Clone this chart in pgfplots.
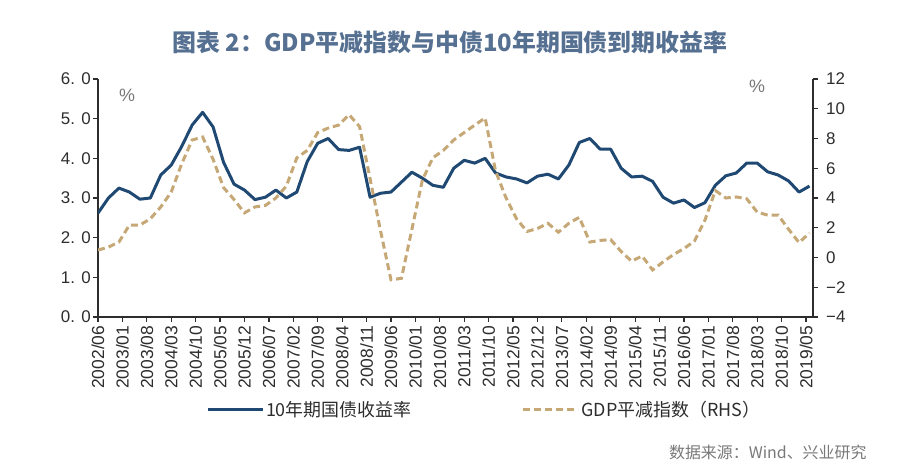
\documentclass[border=0pt]{standalone}
\usepackage{fontspec}
\setmainfont{Liberation Sans}
\newfontfamily\cjk{Noto Sans CJK SC}
\usepackage{pgfplots}
\usepackage{pgfplotstable}
\pgfplotsset{compat=1.18}
\definecolor{bondblue}{RGB}{31,73,115}
\definecolor{defgold}{RGB}{198,168,118}
\definecolor{titleblue}{RGB}{86,112,146}
\definecolor{axisgray}{RGB}{45,45,45}
\definecolor{srcgray}{RGB}{120,120,120}

\pgfplotstableread{
m bond defl
0 2.62 0.5
3 3.00 0.7
6 3.25 1.04
9 3.15 2.18
12 2.97 2.18
15 3.00 2.6
18 3.58 3.4
21 3.83 4.4
24 4.30 6.3
27 4.84 7.9
30 5.16 8.1
33 4.79 6.6
36 3.90 4.7
39 3.35 3.9
42 3.20 3.0
45 2.96 3.4
48 3.02 3.5
51 3.20 4.0
54 3.00 4.8
57 3.15 6.7
60 3.92 7.2
63 4.38 8.4
66 4.50 8.7
69 4.22 8.9
72 4.20 9.6
75 4.28 8.8
78 3.02 5.3
81 3.12 1.8
84 3.15 -1.5
87 3.40 -1.4
90 3.65 1.9
93 3.50 5.2
96 3.32 6.7
99 3.27 7.2
102 3.75 7.9
105 3.95 8.4
108 3.88 8.9
111 4.00 9.38
114 3.63 5.8
117 3.53 4.0
120 3.48 2.6
123 3.38 1.75
126 3.55 1.95
129 3.60 2.3
132 3.48 1.7
135 3.83 2.3
138 4.40 2.7
141 4.50 1.04
144 4.23 1.15
147 4.23 1.2
150 3.75 0.4
153 3.53 -0.25
156 3.55 0.1
159 3.42 -0.84
162 3.02 -0.3
165 2.87 0.2
168 2.95 0.6
171 2.76 1.1
174 2.88 2.5
177 3.32 4.5
180 3.56 4.0
183 3.63 4.07
186 3.88 3.95
189 3.88 3.05
192 3.66 2.85
195 3.58 2.85
198 3.43 1.9
201 3.15 1.0
204 3.30 1.65
}\datatable

\begin{document}
\begin{tikzpicture}
\useasboundingbox (0bp,0bp) rectangle (900bp,473bp);
\begin{axis}[
  at={(98bp,156bp)}, anchor=south west,
  width=715bp, height=238bp, scale only axis,
  xmin=0, xmax=205, ymin=0, ymax=6,
  axis x line*=bottom, axis y line*=left,
  xtick={0,7,...,203},
  xticklabels={2002/06,2003/01,2003/08,2004/03,2004/10,2005/05,2005/12,2006/07,2007/02,2007/09,2008/04,2008/11,2009/06,2010/01,2010/08,2011/03,2011/10,2012/05,2012/12,2013/07,2014/02,2014/09,2015/04,2015/11,2016/06,2017/01,2017/08,2018/03,2018/10,2019/05},
  x tick label style={rotate=90, anchor=east, font=\fontsize{17.5}{17.5}\selectfont, text=axisgray, inner sep=3.5bp},
  ytick={0,1,...,6},
  yticklabels={0. 0,1. 0,2. 0,3. 0,4. 0,5. 0,6. 0},
  y tick label style={font=\fontsize{17}{17}\selectfont, text=axisgray, inner sep=2bp},
  tick align=outside, major tick length=5bp,
  axis line style={axisgray, line width=1.2bp},
  tick style={axisgray, line width=1.2bp},
  legend style={at={(0.54,-0.39)}, anchor=center, draw=none, fill=none,
    legend columns=2, font=\cjk\fontsize{18}{18}\selectfont, text=axisgray,
    /tikz/every even column/.append style={column sep=108bp}},
  legend image code/.code={\draw[#1] (0bp,0bp) -- (55bp,0bp);},
]
\addplot[bondblue, line width=3bp, line join=round] table[x=m, y=bond] {\datatable};
\addlegendentry{10年期国债收益率}
\addlegendimage{defgold, line width=3bp, dash pattern=on 7bp off 4bp}
\addlegendentry{GDP平减指数（RHS）}
\end{axis}
\begin{axis}[
  at={(98bp,156bp)}, anchor=south west,
  width=715bp, height=238bp, scale only axis,
  xmin=0, xmax=205, ymin=-4, ymax=12,
  axis x line=none, axis y line*=right,
  ytick={-4,-2,...,12},
  yticklabels={−4,−2,0,2,4,6,8,10,12},
  y tick label style={font=\fontsize{17}{17}\selectfont, text=axisgray, inner sep=2bp, xshift=6bp},
  tick align=outside, major tick length=5bp,
  axis line style={axisgray, line width=1.2bp},
  tick style={axisgray, line width=1.2bp},
]
\addplot[defgold, line width=3bp, dash pattern=on 7bp off 4bp] table[x=m, y=defl] {\datatable};
\end{axis}
\node[text=titleblue, font=\cjk\bfseries\fontsize{24}{24}\selectfont] at (450bp,431bp) {图表 2：GDP平减指数与中债10年期国债到期收益率};
\node[text=srcgray, font=\fontsize{18}{18}\selectfont] at (127bp,378bp) {\%};
\node[text=srcgray, font=\fontsize{18}{18}\selectfont] at (757bp,387bp) {\%};
\node[anchor=east, text=srcgray, font=\cjk\fontsize{16}{16}\selectfont] at (870bp,21bp) {数据来源：Wind、兴业研究};
\end{tikzpicture}
\end{document}
